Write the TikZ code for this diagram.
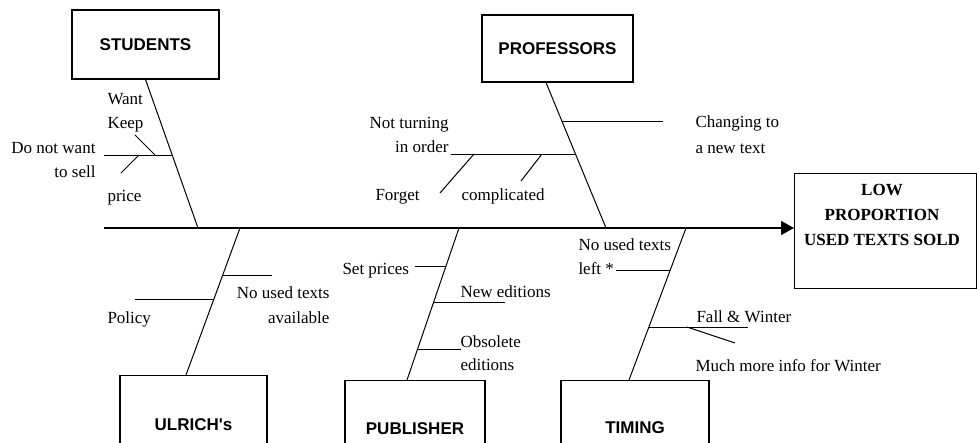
\documentclass[tikz,border=0pt]{standalone}
\usepackage{fontspec}
\setmainfont{Liberation Serif}
\newfontfamily\boxfont{Liberation Sans}
\usetikzlibrary{arrows.meta}
\begin{document}
\begin{tikzpicture}[x=1pt,y=-1pt,line width=1pt,
  cat/.style={draw,line width=1.1pt,inner sep=0pt,font=\boxfont\bfseries\fontsize{17}{20}\selectfont},
  lbl/.style={inner sep=0pt,font=\fontsize{17}{24}\selectfont},
  bone/.style={line width=1pt}]
\useasboundingbox (0,0) rectangle (977,442);
\clip (0,0) rectangle (977,442);

% category boxes
\node[cat,minimum width=147,minimum height=69] (students) at (145.5,44.5) {STUDENTS};
\node[cat,minimum width=151,minimum height=67] (professors) at (557.5,48.5) {PROFESSORS};
\node[cat,anchor=north,minimum width=147,minimum height=98] (ulrich) at (193.5,375) {ULRICH's};
\node[cat,anchor=north,minimum width=140,minimum height=96] (publisher) at (415,380) {PUBLISHER};
\node[cat,anchor=north,minimum width=148,minimum height=94] (timing) at (635,380) {TIMING};

% effect box
\node[draw,line width=1.1pt,inner sep=0pt,anchor=north west,minimum width=182,minimum height=115] (effect) at (794,173) {};
\node[inner sep=0pt,align=center,anchor=north,font=\bfseries\fontsize{17}{25}\selectfont] (efftext) at (882,183.5) {LOW\\PROPORTION\\USED TEXTS SOLD};

% spine
\coordinate (tail) at (104,228);
\draw[line width=1.1pt,-{Triangle[length=13pt,width=14pt]}] (tail) -- (tail -| effect.west);

% joints on spine
\coordinate (sj) at (198,228);
\coordinate (pj) at (606,228);
\coordinate (uj) at (240,228);
\coordinate (bj) at (459,228);
\coordinate (tj) at (686,228);

% main bones
\draw[bone] (students.south) -- (sj);
\draw[bone] ([xshift=-11.5pt]professors.south) -- (pj);
\draw[bone] (uj) -- ([xshift=-7.5pt]ulrich.north);
\draw[bone] (bj) -- ([xshift=-8pt]publisher.north);
\draw[bone] (tj) -- ([xshift=-6pt]timing.north);

% students sub-branches
\coordinate (s1a) at (104,155); \coordinate (s1b) at (172.5,155);
\coordinate (s2a) at (135,135); \coordinate (s2b) at (155,155);
\coordinate (s3a) at (139,155); \coordinate (s3b) at (121,173);
\draw[bone] (s1a) -- (s1b);
\draw[bone] (s2a) -- (s2b);
\draw[bone] (s3a) -- (s3b);

% professors sub-branches
\coordinate (p1a) at (562,121); \coordinate (p1b) at (663,121);
\coordinate (p2a) at (451,154); \coordinate (p2b) at (575.6,154);
\coordinate (p3a) at (474,154); \coordinate (p3b) at (440,193);
\coordinate (p4a) at (542,154); \coordinate (p4b) at (521,181);
\draw[bone] (p1a) -- (p1b);
\draw[bone] (p2a) -- (p2b);
\draw[bone] (p3a) -- (p3b);
\draw[bone] (p4a) -- (p4b);

% ulrich sub-branches
\coordinate (u1a) at (222.7,275); \coordinate (u1b) at (272,275);
\coordinate (u2a) at (135,299); \coordinate (u2b) at (213.9,299);
\draw[bone] (u1a) -- (u1b);
\draw[bone] (u2a) -- (u2b);

% publisher sub-branches
\coordinate (b1a) at (415,266); \coordinate (b1b) at (446,266);
\coordinate (b2a) at (433.7,302); \coordinate (b2b) at (505,302);
\coordinate (b3a) at (417.6,349); \coordinate (b3b) at (461,349);
\draw[bone] (b1a) -- (b1b);
\draw[bone] (b2a) -- (b2b);
\draw[bone] (b3a) -- (b3b);

% timing sub-branches
\coordinate (t1a) at (616,270); \coordinate (t1b) at (670,270);
\coordinate (t2a) at (648.9,327); \coordinate (t2b) at (748,327);
\coordinate (t3a) at (687,327); \coordinate (t3b) at (735,343);
\draw[bone] (t1a) -- (t1b);
\draw[bone] (t2a) -- (t2b);
\draw[bone] (t3a) -- (t3b);

% labels
\node[lbl,align=left,anchor=north west] (want) at (107,92.5) {Want\\Keep};
\node[lbl,align=right,anchor=north east] (donot) at (96,141.5) {Do not want\\to sell};
\node[lbl,anchor=base west] (price) at (107,201) {price};
\node[lbl,align=right,anchor=north east] (notturn) at (449,116.5) {Not turning\\in order};
\node[lbl,anchor=base west] (forget) at (375,200) {Forget};
\node[lbl,anchor=base west] (compl) at (461,200) {complicated};
\node[lbl,align=left,anchor=north west,font=\fontsize{17}{26}\selectfont] (changing) at (695,115.5) {Changing to\\a new text};
\node[lbl,align=right,anchor=north east,font=\fontsize{17}{25}\selectfont] (noused) at (330,286.5) {No used texts\\available};
\node[lbl,anchor=base west] (policy) at (107,323) {Policy};
\node[lbl,anchor=base west] (setprices) at (342,274) {Set prices};
\node[lbl,anchor=base west] (newed) at (460,297) {New editions};
\node[lbl,align=left,anchor=north west,font=\fontsize{17}{23}\selectfont] (obsolete) at (460,335.5) {Obsolete\\editions};
\node[lbl,align=left,anchor=north west] (noleft) at (578,238.5) {No used texts\\left *};
\node[lbl,anchor=base west] (fall) at (696,322) {Fall \& Winter};
\node[lbl,anchor=base west] (much) at (695,371) {Much more info for Winter};
\end{tikzpicture}
\end{document}
